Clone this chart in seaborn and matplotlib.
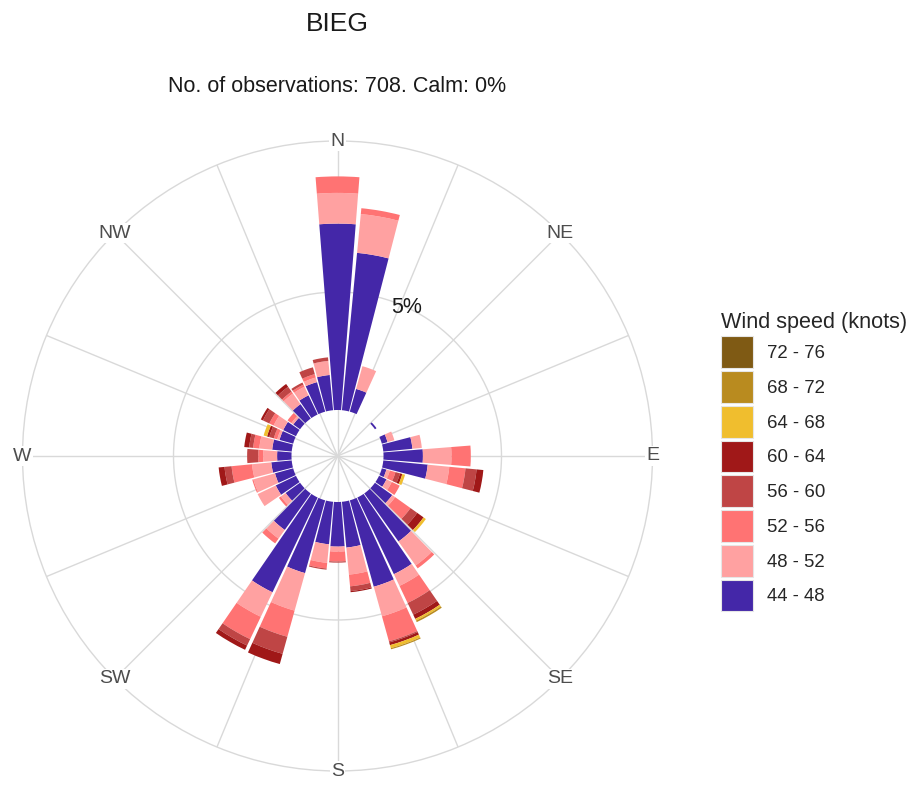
import matplotlib
matplotlib.use("Agg")
import matplotlib.pyplot as plt
import numpy as np
import pandas as pd
import seaborn as sns
from matplotlib.patches import Patch

sns.set_theme(style="white")
plt.rcParams["font.family"] = ["Liberation Sans", "DejaVu Sans"]

# direction bins (degrees, clockwise from north)
directions = list(range(0, 360, 10))

speed_bins = ["44 - 48", "48 - 52", "52 - 56", "56 - 60", "60 - 64", "64 - 68", "68 - 72", "72 - 76"]
speed_colors = ["#4427A8", "#FFA1A1", "#FF7373", "#BF4545", "#A01818", "#F0BE2E", "#B98B1F", "#7F5A14"]

# percent of observations per direction, one list per speed bin
#          0     10    20   30 40  50    60  70    80    90    100   110   120   130   140   150   160   170   180   190   200   210   220   230   240   250   260   270   280   290   300   310   320   330   340   350
s44_48 = [7.90, 6.70, 1.00, 0, 0, 0.08, 0, 0.25, 1.24, 1.67, 1.89, 0.20, 0.35, 0.90, 2.50, 3.60, 3.80, 1.95, 1.89, 1.81, 3.20, 4.45, 1.90, 0.75, 0.95, 0.80, 0.87, 0.61, 0.83, 0.60, 0.60, 0.35, 0.75, 0.90, 1.30, 1.50]
s48_52 = [1.30, 1.65, 1.00, 0, 0, 0.00, 0, 0.30, 0.40, 1.21, 0.92, 0.15, 0.25, 0.15, 1.25, 0.55, 1.30, 1.15, 0.21, 0.79, 1.65, 1.15, 0.45, 0.25, 0.85, 0.95, 0.82, 0.59, 0.55, 0.10, 0.45, 0.10, 0.55, 0.40, 0.20, 0.60]
s52_56 = [0.70, 0.25, 0.00, 0, 0, 0.00, 0, 0.00, 0.00, 0.82, 0.69, 0.25, 0.37, 0.80, 0.15, 0.80, 1.10, 0.50, 0.42, 0.24, 1.15, 1.05, 0.25, 0.10, 0.00, 0.05, 0.87, 0.21, 0.26, 0.15, 0.20, 0.20, 0.10, 0.10, 0.15, 0.00]
s56_60 = [0.00, 0.00, 0.00, 0, 0, 0.00, 0, 0.00, 0.00, 0.00, 0.47, 0.20, 0.00, 0.35, 0.00, 0.55, 0.05, 0.20, 0.05, 0.05, 0.75, 0.30, 0.00, 0.00, 0.00, 0.00, 0.30, 0.47, 0.17, 0.20, 0.30, 0.00, 0.25, 0.10, 0.30, 0.15]
s60_64 = [0.00, 0.00, 0.00, 0, 0, 0.00, 0, 0.00, 0.00, 0.00, 0.29, 0.10, 0.00, 0.33, 0.00, 0.20, 0.12, 0.05, 0.00, 0.00, 0.45, 0.20, 0.00, 0.00, 0.00, 0.00, 0.25, 0.00, 0.21, 0.10, 0.10, 0.00, 0.15, 0.00, 0.00, 0.00]
s64_68 = [0.00, 0.00, 0.00, 0, 0, 0.00, 0, 0.00, 0.00, 0.00, 0.00, 0.12, 0.00, 0.12, 0.00, 0.08, 0.13, 0.00, 0.00, 0.00, 0.00, 0.00, 0.00, 0.00, 0.00, 0.00, 0.00, 0.00, 0.00, 0.15, 0.00, 0.00, 0.00, 0.00, 0.00, 0.00]
s68_72 = [0.00, 0.00, 0.00, 0, 0, 0.00, 0, 0.00, 0.00, 0.00, 0.00, 0.00, 0.00, 0.00, 0.00, 0.07, 0.05, 0.00, 0.00, 0.00, 0.00, 0.00, 0.00, 0.00, 0.00, 0.00, 0.00, 0.00, 0.00, 0.00, 0.00, 0.00, 0.00, 0.00, 0.00, 0.00]
s72_76 = [0.00] * 36

compass_labels = ["N", "NE", "E", "SE", "S", "SW", "W", "NW"]

df = pd.DataFrame(
    {"direction": directions, "44 - 48": s44_48, "48 - 52": s48_52, "52 - 56": s52_56, "56 - 60": s56_60,
     "60 - 64": s60_64, "64 - 68": s64_68, "68 - 72": s68_72, "72 - 76": s72_76}
)

OFFSET = 1.95      # empty hole in the middle (percent units)
RMAX = 11.40       # outer circle (percent above the hole)
GRID_LINE = 5
GRID_COL = "#D9D9D9"

fig = plt.figure(figsize=(9.15, 7.85), dpi=100)
ax = fig.add_axes([22.5 / 915, 14 / 785, 630 / 915, 630 / 785], projection="polar")
ax.set_theta_zero_location("N")
ax.set_theta_direction(-1)
ax.set_ylim(0, OFFSET + RMAX)

theta = np.deg2rad(df["direction"].values)
width = np.deg2rad(9.0)
bottom = np.full(len(df), OFFSET)
for name, col in zip(speed_bins, speed_colors):
    vals = df[name].values
    ax.bar(theta, vals, width=width, bottom=bottom, color=col, linewidth=0, zorder=3)
    bottom = bottom + vals

# grid: spokes every 22.5 deg, one ring at 5 %
ax.set_thetagrids(np.arange(0, 360, 22.5), labels=[])
ax.set_rgrids([OFFSET + GRID_LINE], labels=[])
ax.grid(True, color=GRID_COL, linewidth=1)
ax.spines["polar"].set_color(GRID_COL)
ax.spines["polar"].set_linewidth(1)
ax.set_facecolor("white")

ax.text(np.deg2rad(25), OFFSET + GRID_LINE, f"{GRID_LINE}%", ha="center", va="center",
        fontsize=15.5, color="#1A1A1A", zorder=5)

for i, lab in enumerate(compass_labels):
    ax.text(np.deg2rad(i * 45), OFFSET + RMAX, lab, ha="center", va="center", fontsize=14,
            color="#4D4D4D", zorder=5, bbox=dict(facecolor="white", edgecolor="none", pad=1))

fig.text(337.5 / 915, 1 - 24 / 785, "BIEG", ha="center", va="center", fontsize=19, color="#1A1A1A")
fig.text(337.5 / 915, 1 - 87 / 785, "No. of observations: 708. Calm: 0%", ha="center", va="center",
         fontsize=15.5, color="#1A1A1A")

handles = [Patch(facecolor=c, edgecolor="#E6E6E6", linewidth=0.8) for c in speed_colors][::-1]
leg = fig.legend(handles, speed_bins[::-1], loc="upper left", bbox_to_anchor=(714 / 915, 1 - 305 / 785),
                 frameon=False, title="Wind speed (knots)", fontsize=13.4, title_fontsize=15.6,
                 handlelength=1.7, handleheight=2.25, labelspacing=0.16, handletextpad=0.75,
                 alignment="left", borderaxespad=0)

fig.savefig("out.png", dpi=100, facecolor="white")
plt.close(fig)
